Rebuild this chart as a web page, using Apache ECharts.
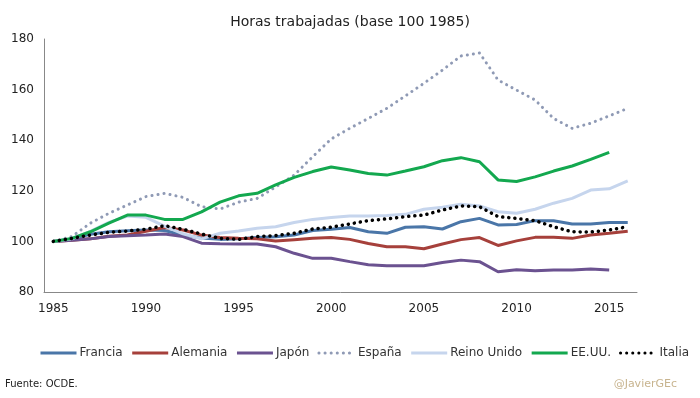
<!DOCTYPE html>
<html>
<head>
<meta charset="utf-8">
<script src="https://cdn.jsdelivr.net/npm/echarts@6/dist/echarts.min.js"></script>
<style>
  html, body { margin: 0; padding: 0; background: #fff; }
  #chart { width: 700px; height: 398px; }
</style>
</head>
<body>
<div id="chart"></div>
<script>
const years = ['1985','1986','1987','1988','1989','1990','1991','1992','1993','1994','1995','1996','1997','1998','1999','2000',
  '2001','2002','2003','2004','2005','2006','2007','2008','2009','2010','2011','2012','2013','2014','2015','2016'];

const francia = [100,101,102.8,103.8,104.2,104.5,104.3,102.5,101.3,100.8,101,101.5,101.8,102.5,104.3,104.8,
  105.5,103.8,103.2,105.6,105.8,104.9,107.8,109.1,106.5,106.7,108.2,108.2,106.9,106.9,107.5,107.5];
const alemania = [100,100.5,101,102,102.5,104,105.5,104.5,102.5,101.5,101.2,101,100.2,100.7,101.2,101.5,
  100.8,99.2,97.9,97.9,97.1,99,100.7,101.5,98.4,100.2,101.6,101.6,101.2,102.5,103.2,104];
const japon = [100,100.5,101,101.9,102.2,102.5,102.9,101.9,99.3,99.1,99,99,97.9,95.3,93.3,93.3,
  92,90.8,90.4,90.4,90.4,91.7,92.6,92,88,88.8,88.4,88.7,88.7,89.1,88.7,null];
const espana = [100,101.9,107.2,111.1,114.4,117.7,119,117.4,113.7,112.8,115.5,117,121.5,126.2,133.5,140.5,
  144.7,148.6,152.6,157.5,162.5,167.7,173.3,174.5,163.8,159.8,155.9,148.6,144.7,146.7,149.6,152.6];
const reinoUnido = [100,101,104,107.5,110,109.5,106,103,101,103.2,104.1,105.2,105.8,107.5,108.7,109.4,
  110,110,110.2,110.7,112.7,113.5,114.7,114,111.7,111.1,112.7,115.1,117,120.3,120.8,123.9];
const eeuu = [100,101.2,103.8,107.2,110.4,110.4,108.7,108.7,111.7,115.5,118,119,122.3,125.3,127.6,129.4,
  128.2,126.8,126.2,127.8,129.5,131.9,133.1,131.5,124.3,123.7,125.5,127.8,129.8,132.4,135.2,null];
const italia = [100,101.2,102.5,103.6,104.1,104.8,106.2,104.8,102.9,101.2,100.8,101.9,102.3,103.2,104.9,105.6,
  106.9,108.2,108.9,109.8,110.4,112.4,114,113.7,109.8,109.1,108.2,105.8,103.8,103.7,104.5,105.8];

const font = 'DejaVu Sans';

function solid(name, data, color) {
  return {
    name, type: 'line', data, symbol: 'none', smooth: false,
    lineStyle: { color, width: 3 },
    itemStyle: { color }
  };
}

function dotted(name, data, color, width) {
  return {
    name, type: 'line', data, symbol: 'none', smooth: false,
    lineStyle: { color, width, type: [0.1, 6], cap: 'round' },
    itemStyle: { color }
  };
}

const chart = echarts.init(document.getElementById('chart'));

chart.setOption({
  backgroundColor: '#fff',
  animation: false,
  title: {
    text: 'Horas trabajadas (base 100 1985)',
    left: 'center',
    top: 10,
    textStyle: { fontFamily: font, fontSize: 14, fontWeight: 'normal', color: '#222' }
  },
  legend: {
    top: 342,
    left: 34,
    itemWidth: 36,
    itemHeight: 10,
    itemGap: 8,
    itemStyle: { opacity: 0 },
    lineStyle: { width: 3 },
    textStyle: { fontFamily: font, fontSize: 12, color: '#333', padding: [0, 0, 0, -2] },
    data: ['Francia', 'Alemania', 'Japón', 'España', 'Reino Unido', 'EE.UU.', 'Italia']
  },
  graphic: [
    { type: 'text', left: 5, top: 379, style: { text: 'Fuente: OCDE.', font: '10px "DejaVu Sans"', fill: '#222' } },
    { type: 'text', right: 23, top: 379, style: { text: '@JavierGEc', font: '11px "DejaVu Sans"', fill: '#c8b48f' } }
  ],
  grid: { left: 44, right: 63, top: 39, bottom: 106 },
  xAxis: {
    type: 'category',
    data: years,
    boundaryGap: true,
    axisLine: { lineStyle: { color: '#888', width: 1 } },
    axisTick: { show: false },
    axisLabel: {
      interval: (i) => i % 5 === 0,
      fontFamily: font, fontSize: 12, color: '#222', margin: 11
    }
  },
  yAxis: {
    type: 'value',
    min: 80, max: 180, interval: 20,
    axisLine: { show: true, lineStyle: { color: '#888', width: 1 } },
    axisTick: { show: false },
    splitLine: { show: false },
    axisLabel: { fontFamily: font, fontSize: 12, color: '#222', margin: 10 }
  },
  series: [
    solid('Francia', francia, '#4a76a8'),
    solid('Alemania', alemania, '#a6403b'),
    solid('Japón', japon, '#6b5290'),
    dotted('España', espana, '#8f9ab5', 3),
    solid('Reino Unido', reinoUnido, '#c6d5ed'),
    solid('EE.UU.', eeuu, '#13a84f'),
    dotted('Italia', italia, '#000000', 3.5)
  ]
});
</script>
</body>
</html>
